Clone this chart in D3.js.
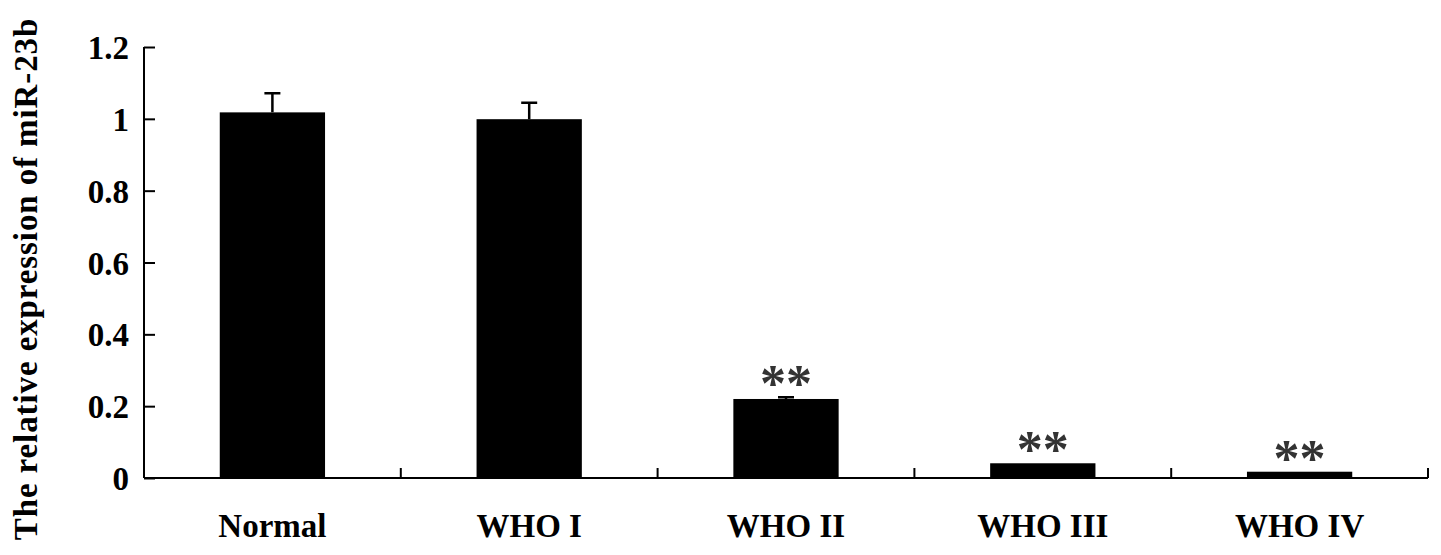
<!DOCTYPE html>
<html>
<head>
<meta charset="utf-8">
<script src="https://cdn.jsdelivr.net/npm/d3@7"></script>
<style>
	body { margin: 0; background: #fff; }
	text { font-family: "Liberation Serif", "Times New Roman", serif; font-weight: bold; }
</style>
</head>
<body>
<svg width="1441" height="555"></svg>
<script>
// data
var groups = ["Normal", "WHO I", "WHO II", "WHO III", "WHO IV"];
var means = [1.018, 0.999, 0.22, 0.041, 0.0175];
var errs = [0.053, 0.046, 0.005, 0, 0];
var stars = ["", "", "**", "**", "**"];
var yTicks = [0, 0.2, 0.4, 0.6, 0.8, 1, 1.2];

var svg = d3.select("svg");

var x = d3.scaleBand()
	.domain(groups)
	.range([144, 1428])
	.paddingInner(0.59)
	.paddingOuter(0.295);

var y = d3.scaleLinear()
	.domain([0, 1.2])
	.range([478, 47]);

// y axis, ticks pointing inward
var yAxis = svg.append("g")
	.attr("transform", "translate(144,0)")
	.call(d3.axisRight(y).tickValues(yTicks).tickSize(11).tickFormat(d3.format("~g")));
yAxis.select(".domain").attr("stroke", "#000").attr("stroke-width", 2).attr("d", "M0," + y(1.2) + "V" + y(0));
yAxis.selectAll(".tick line").attr("stroke", "#000").attr("stroke-width", 2);
yAxis.selectAll(".tick text")
	.attr("x", -15)
	.attr("dy", "0.35em")
	.attr("text-anchor", "end")
	.attr("font-size", 33)
	.attr("fill", "#000");

// x axis line with boundary ticks
var bounds = groups.map(function(g) { return x(g) - x.step() * 0.295; });
bounds.push(1428);
svg.append("line")
	.attr("x1", 144).attr("x2", 1428)
	.attr("y1", y(0)).attr("y2", y(0))
	.attr("stroke", "#000").attr("stroke-width", 2);
svg.selectAll(".xtick")
	.data(bounds)
	.enter().append("line")
	.attr("class", "xtick")
	.attr("x1", function(d) { return d; })
	.attr("x2", function(d) { return d; })
	.attr("y1", y(0))
	.attr("y2", y(0) - 10)
	.attr("stroke", "#000").attr("stroke-width", 2);

// error bars (upper only)
svg.selectAll(".err")
	.data(groups)
	.enter().append("path")
	.attr("class", "err")
	.attr("d", function(d, i) {
		if (!errs[i]) return "";
		var cx = x(d) + x.bandwidth() / 2;
		var top = y(means[i] + errs[i]);
		return "M" + cx + "," + y(means[i]) + "V" + top + "M" + (cx - 8) + "," + top + "H" + (cx + 8);
	})
	.attr("stroke", "#000")
	.attr("stroke-width", 2.5)
	.attr("fill", "none");

svg.selectAll(".bar")
	.data(groups)
	.enter().append("rect")
	.attr("class", "bar")
	.attr("x", function(d) { return x(d); })
	.attr("width", x.bandwidth())
	.attr("y", function(d, i) { return y(means[i]); })
	.attr("height", function(d, i) { return y(0) - y(means[i]); })
	.attr("fill", "#000");

// significance marks
svg.selectAll(".star")
	.data(groups)
	.enter().append("text")
	.attr("class", "star")
	.attr("x", function(d) { return x(d) + x.bandwidth() / 2; })
	.attr("y", function(d, i) { return y(means[i] + errs[i]) + 4; })
	.attr("text-anchor", "middle")
	.attr("font-size", 52)
	.attr("font-weight", "normal")
	.attr("fill", "#333")
	.text(function(d, i) { return stars[i]; });

// category labels
svg.selectAll(".xlab")
	.data(groups)
	.enter().append("text")
	.attr("class", "xlab")
	.attr("x", function(d) { return x(d) + x.bandwidth() / 2; })
	.attr("y", 537)
	.attr("text-anchor", "middle")
	.attr("font-size", 33)
	.attr("fill", "#000")
	.text(function(d) { return d; });

svg.append("text")
	.attr("transform", "translate(37,279) rotate(-90)")
	.attr("text-anchor", "middle")
	.attr("font-size", 33)
	.attr("letter-spacing", 0.9)
	.attr("fill", "#000")
	.text("The relative expression of miR-23b");
</script>
</body>
</html>
